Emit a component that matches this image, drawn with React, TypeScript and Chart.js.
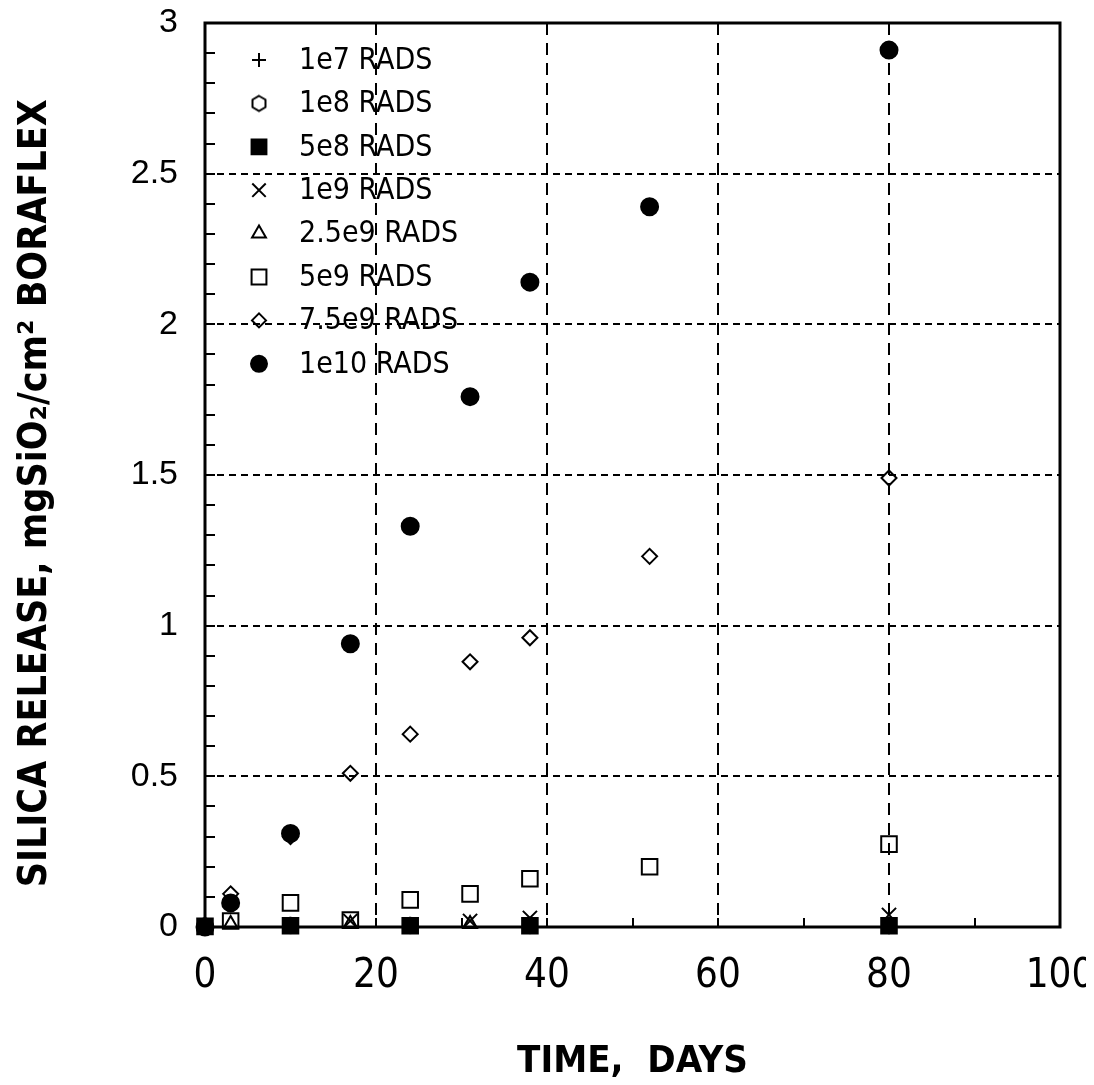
import React, { useEffect, useRef } from 'react';
import { Chart, registerables } from 'chart.js';
import { drawPoint } from 'chart.js/helpers';

Chart.register(...registerables);

// ---- Data (days vs. mg SiO2 / cm2) ----
const seriesNames = ['1e7 RADS', '1e8 RADS', '5e8 RADS', '1e9 RADS', '2.5e9 RADS', '5e9 RADS', '7.5e9 RADS', '1e10 RADS'];

const days1e7 = [0, 10, 24, 38, 80];
const vals1e7 = [0, 0, 0, 0, 0];

const days1e8 = [0, 10, 24, 38, 80];
const vals1e8 = [0.005, 0.006, 0.006, 0.006, 0.005];

const days5e8 = [0, 10, 24, 38, 80];
const vals5e8 = [0.002, 0.004, 0.004, 0.004, 0.004];

const days1e9 = [17, 31, 38, 80];
const vals1e9 = [0.02, 0.02, 0.03, 0.04];

const days2p5e9 = [3, 17, 31];
const vals2p5e9 = [0.01, 0.01, 0.01];

const days5e9 = [3, 10, 17, 24, 31, 38, 52, 80];
const vals5e9 = [0.02, 0.08, 0.023, 0.09, 0.11, 0.16, 0.2, 0.275];

const days7p5e9 = [3, 10, 17, 24, 31, 38, 52, 80];
const vals7p5e9 = [0.11, 0.3, 0.51, 0.64, 0.88, 0.96, 1.23, 1.49];

const days1e10 = [0, 3, 10, 17, 24, 31, 38, 52, 80];
const vals1e10 = [0, 0.08, 0.31, 0.94, 1.33, 1.76, 2.14, 2.39, 2.91];

const xTicks = [0, 20, 40, 60, 80, 100];
const yTicks = [0, 0.5, 1, 1.5, 2, 2.5, 3];

const NARROW = "'Liberation Sans Narrow', 'DejaVu Sans Condensed', 'Arial Narrow', sans-serif";
const REG = "'Liberation Sans', Arial, sans-serif";

function makeHexagon(): HTMLCanvasElement {
  const c = document.createElement('canvas');
  c.width = 18;
  c.height = 20;
  const ctx = c.getContext('2d')!;
  ctx.strokeStyle = '#000';
  ctx.lineWidth = 2;
  ctx.beginPath();
  const cx = 9, cy = 10, r = 7.5;
  for (let i = 0; i < 6; i++) {
    const a = -Math.PI / 2 + (i * Math.PI) / 3;
    const px = cx + r * Math.cos(a);
    const py = cy + r * Math.sin(a);
    if (i === 0) ctx.moveTo(px, py); else ctx.lineTo(px, py);
  }
  ctx.closePath();
  ctx.stroke();
  return c;
}

const toPts = (xs: number[], ys: number[]) => xs.map((x, i) => ({ x, y: ys[i] }));

export default function App() {
  const ref = useRef<HTMLCanvasElement>(null);

  useEffect(() => {
    if (!ref.current) return;
    const hex = makeHexagon();
    const hollow = 'rgba(0,0,0,0)';
    const base = { showLine: false, clip: false as any, borderColor: '#000', pointBorderWidth: 2, pointHoverRadius: 8 };

    const datasets: any[] = [
      { ...base, label: seriesNames[0], data: toPts(days1e7, vals1e7), pointStyle: 'cross', pointRadius: 7, backgroundColor: hollow, order: 5, legendR: 7 },
      { ...base, label: seriesNames[1], data: toPts(days1e8, vals1e8), pointStyle: hex, pointRadius: 7, backgroundColor: hollow, order: 5, legendR: 7 },
      { ...base, label: seriesNames[2], data: toPts(days5e8, vals5e8), pointStyle: 'rect', pointRadius: 11, backgroundColor: '#000', order: 0, legendR: 10.5 },
      { ...base, label: seriesNames[3], data: toPts(days1e9, vals1e9), pointStyle: 'crossRot', pointRadius: 10, backgroundColor: hollow, order: 1, legendR: 9.5 },
      { ...base, label: seriesNames[4], data: toPts(days2p5e9, vals2p5e9), pointStyle: 'triangle', pointRadius: 8, backgroundColor: hollow, order: 1, legendR: 8 },
      { ...base, label: seriesNames[5], data: toPts(days5e9, vals5e9), pointStyle: 'rect', pointRadius: 11, backgroundColor: hollow, order: 2, legendR: 10.5 },
      { ...base, label: seriesNames[6], data: toPts(days7p5e9, vals7p5e9), pointStyle: 'rectRot', pointRadius: 7.5, backgroundColor: hollow, order: 3, legendR: 7 },
      { ...base, label: seriesNames[7], data: toPts(days1e10, vals1e10), pointStyle: 'circle', pointRadius: 8.5, backgroundColor: '#000', order: 2, legendR: 8 },
    ];

    const decor = {
      id: 'decor',
      afterDraw(chart: any) {
        const { ctx, chartArea: a, scales } = chart;
        ctx.save();
        // minor ticks
        ctx.strokeStyle = '#000';
        ctx.lineWidth = 2;
        ctx.setLineDash([]);
        for (let i = 1; i < 30; i++) {
          const y = Math.round(scales.y.getPixelForValue(i / 10));
          ctx.beginPath();
          ctx.moveTo(a.left, y);
          ctx.lineTo(a.left + 10, y);
          ctx.stroke();
        }
        for (let v = 10; v < 100; v += 10) {
          const x = Math.round(scales.x.getPixelForValue(v));
          ctx.beginPath();
          ctx.moveTo(x, a.bottom);
          ctx.lineTo(x, a.bottom - 9);
          ctx.stroke();
        }
        // frame
        ctx.lineWidth = 3;
        ctx.strokeRect(a.left, a.top, a.right - a.left, a.bottom - a.top);
        // legend
        const sx = a.left + 54;
        const tx = a.left + 94;
        const rowH = 43.4;
        ctx.font = `30px ${NARROW}`;
        ctx.textBaseline = 'middle';
        ctx.textAlign = 'left';
        chart.data.datasets.forEach((ds: any, i: number) => {
          const y = a.top + 37 + i * rowH;
          ctx.fillStyle = ds.backgroundColor;
          ctx.strokeStyle = '#000';
          ctx.lineWidth = 2;
          drawPoint(ctx, { pointStyle: ds.pointStyle, radius: ds.legendR, borderWidth: 2, rotation: 0 }, sx, y);
          ctx.fillStyle = '#000';
          ctx.fillText(ds.label, tx, y + 1);
        });
        ctx.restore();
      },
    };

    const chart = new Chart(ref.current, {
      type: 'scatter',
      data: { datasets },
      plugins: [decor],
      options: {
        animation: false,
        responsive: false,
        maintainAspectRatio: false,
        layout: { padding: { top: 15, right: 26, left: 0, bottom: 0 } },
        plugins: { legend: { display: false }, tooltip: { enabled: false } },
        scales: {
          x: {
            type: 'linear',
            min: 0,
            max: 100,
            afterBuildTicks: (s: any) => { s.ticks = xTicks.map((v) => ({ value: v })); },
            afterFit: (s: any) => { s.height = 150; s.paddingLeft = 0; s.paddingRight = 0; },
            ticks: { color: '#000', padding: 26, maxRotation: 0, font: { family: NARROW, size: 40 }, callback: (v: any) => String(v) },
            grid: {
              drawTicks: false,
              lineWidth: 2,
              color: (c: any) => (c.tick && (c.tick.value === 0 || c.tick.value === 100) ? 'rgba(0,0,0,0)' : '#000'),
            },
            border: { display: false, dash: [12, 8] },
            title: {
              display: true,
              text: 'TIME,  DAYS',
              color: '#000',
              font: { family: NARROW, size: 38, weight: 'bold', lineHeight: 1 },
              padding: { top: 0, bottom: -4 },
            },
          },
          y: {
            type: 'linear',
            min: 0,
            max: 3,
            afterBuildTicks: (s: any) => { s.ticks = yTicks.map((v) => ({ value: v })); },
            afterFit: (s: any) => { s.width = 197; s.paddingTop = 0; s.paddingBottom = 0; },
            ticks: { color: '#000', padding: 27, font: { family: REG, size: 34 }, callback: (v: any) => String(v) },
            grid: {
              drawTicks: false,
              lineWidth: 2,
              color: (c: any) => (c.tick && (c.tick.value === 0 || c.tick.value === 3) ? 'rgba(0,0,0,0)' : '#000'),
            },
            border: { display: false, dash: [7, 5] },
            title: {
              display: true,
              text: 'SILICA RELEASE, mgSiO\u2082/cm\u00B2 BORAFLEX   ',
              color: '#000',
              font: { family: NARROW, size: 39, weight: 'bold', lineHeight: 1 },
              padding: { top: 8, bottom: 0 },
            },
          },
        },
      } as any,
    });
    return () => chart.destroy();
  }, []);

  return (
    <div style={{ width: 1078, height: 1069 }}>
      <canvas ref={ref} width={1078} height={1069} style={{ width: 1078, height: 1069, display: 'block' }} />
    </div>
  );
}
